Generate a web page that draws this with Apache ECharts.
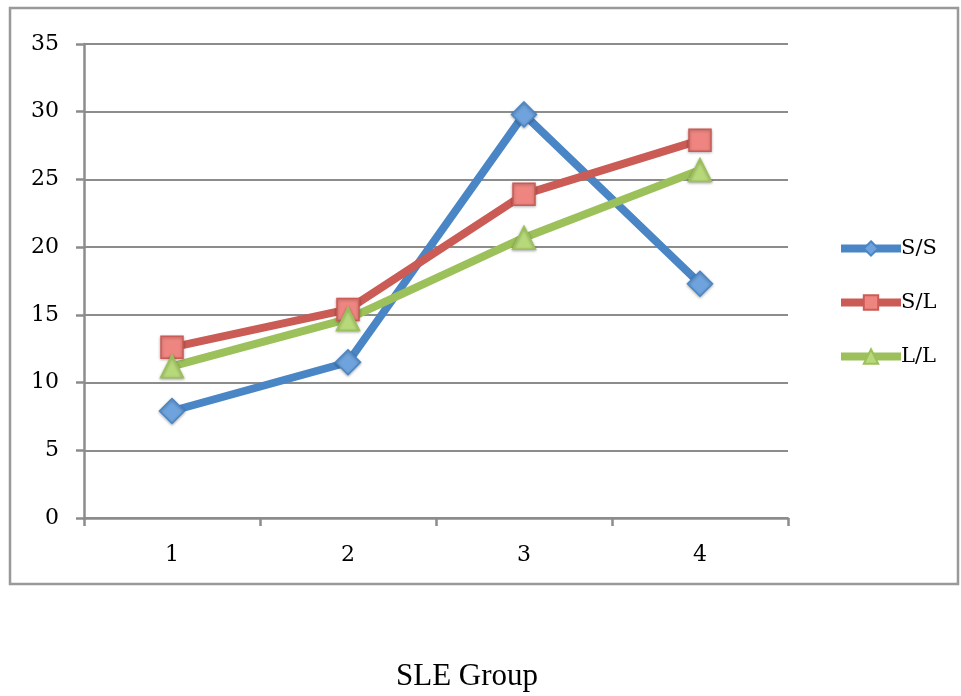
<!DOCTYPE html>
<html><head><meta charset="utf-8">
<script src="https://cdn.jsdelivr.net/npm/echarts@6/dist/echarts.min.js"></script>
<style>html,body{margin:0;padding:0;background:#fff}#c{width:961px;height:696px}</style>
</head><body><div id="c"></div>
<script>
const categories = ['1','2','3','4'];
const seriesNames = ['S/S','S/L','L/L'];
const ssValues = [7.9, 11.5, 29.8, 17.3];
const slValues = [12.6, 15.4, 23.9, 27.9];
const llValues = [11.2, 14.7, 20.7, 25.7];
const yTicks = [0,5,10,15,20,25,30,35];
const xTitle = 'SLE Group';

const font = 'DejaVu Serif';
const colors = {ss:['#4A86C5','#6FA3DD'], sl:['#CB5B55','#EE8580'], ll:['#9CC05A','#B7D97A']};
const chart = echarts.init(document.getElementById('c'));
function mk(name, data, c, symbol, size){
  return {
    name, type:'line', data, symbol, symbolSize:size,
    lineStyle:{color:c[0],width:8},
    itemStyle:{color:c[1],borderColor:c[0],borderWidth:1.5,shadowColor:'rgba(0,0,0,0.3)',shadowBlur:3,shadowOffsetY:1},
    emphasis:{disabled:true}, z:3
  };
}
chart.setOption({
  animation:false,
  grid:{left:84,right:173,top:44,bottom:178},
  graphic:[{type:'rect',shape:{x:10,y:8,width:948,height:576},style:{fill:'none',stroke:'#999',lineWidth:2.5},z:-1},
    {type:'text',left:396,top:661,style:{text:xTitle,fontFamily:'Liberation Serif',fontSize:31,fill:'#000'}}],
  legend:{orient:'vertical',left:832,top:233,itemGap:33,itemWidth:60,itemHeight:18,
    textStyle:{fontFamily:font,fontSize:21,color:'#000',padding:[0,0,0,-5]},
    data:[
      {name:'S/S',lineStyle:{width:8,color:colors.ss[0]}},
      {name:'S/L',lineStyle:{width:8,color:colors.sl[0]}},
      {name:'L/L',lineStyle:{width:8,color:colors.ll[0]}}
    ]},
  xAxis:{type:'category',data:categories,boundaryGap:true,
    axisLine:{lineStyle:{color:'#8c8c8c',width:2.5}},
    axisTick:{show:true,length:8,lineStyle:{color:'#8c8c8c',width:2.5}},
    axisLabel:{fontFamily:font,fontSize:22,color:'#000',margin:26}},
  yAxis:{type:'value',min:0,max:35,interval:5,
    axisLine:{show:true,lineStyle:{color:'#8c8c8c',width:2.5}},
    axisTick:{show:true,length:8,lineStyle:{color:'#8c8c8c',width:2.5}},
    splitLine:{lineStyle:{color:'#8c8c8c',width:2}},
    axisLabel:{fontFamily:font,fontSize:22,color:'#000',margin:25,
      formatter:v=>yTicks.includes(v)?String(v):''}},
  series:[
    mk('S/S',ssValues,colors.ss,'diamond',25),
    mk('S/L',slValues,colors.sl,'rect',22),
    mk('L/L',llValues,colors.ll,'triangle',23)
  ]
});
</script></body></html>
